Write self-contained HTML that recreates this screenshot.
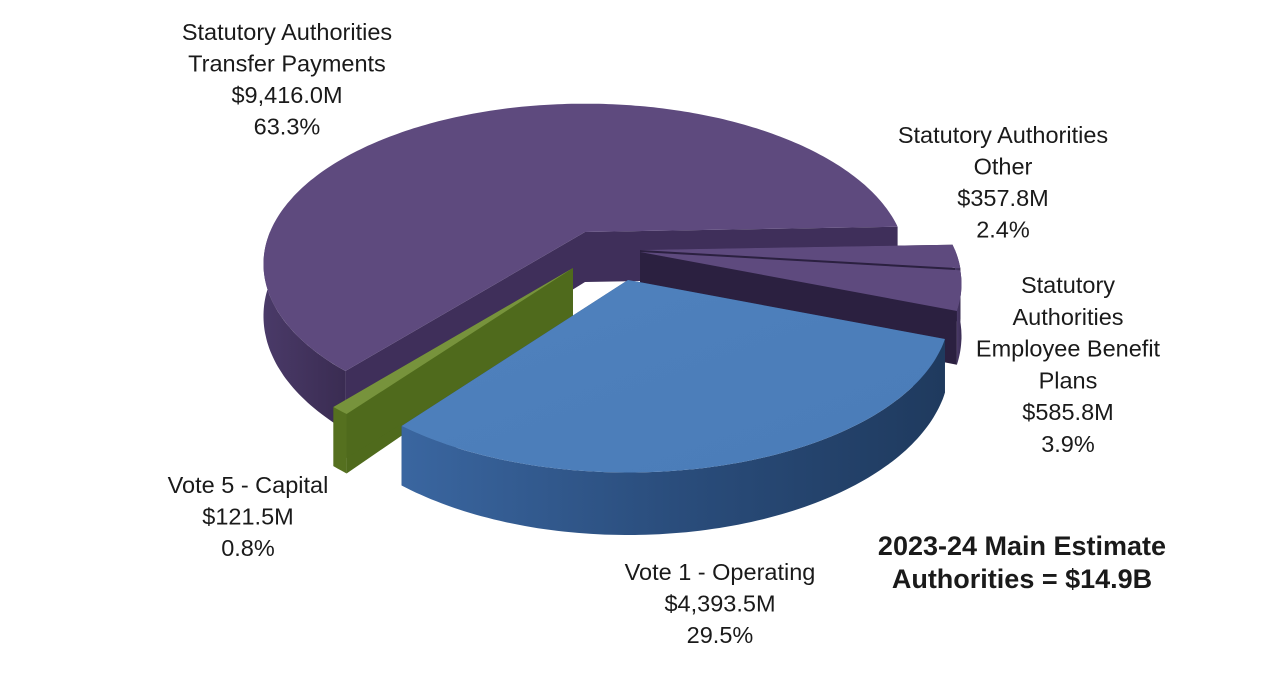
<!DOCTYPE html>
<html><head><meta charset="utf-8"><style>
html,body{margin:0;padding:0;background:#fff;}
svg{display:block;}
text{font-family:"Liberation Sans",sans-serif;fill:#1a1a1a;}
</style></head><body>
<svg id="chart" width="1267" height="692" viewBox="0 0 1267 692">
<defs>
<linearGradient id="gBlueWall" x1="0" x2="1" y1="0" y2="0"><stop offset="0" stop-color="#3a66a0"/><stop offset="0.5" stop-color="#2a4d7c"/><stop offset="1" stop-color="#1f3a5e"/></linearGradient>
<linearGradient id="gBlueTop" x1="0" x2="1" y1="0" y2="1"><stop offset="0" stop-color="#4f81bd"/><stop offset="1" stop-color="#4a7cb8"/></linearGradient>
<linearGradient id="gPurpleWall" x1="0" x2="1" y1="0" y2="0"><stop offset="0" stop-color="#4a3a68"/><stop offset="1" stop-color="#3a2c52"/></linearGradient>
</defs>
<g id="slices"></g>
<g id="labels"></g>
</svg>
<script>
const categories = ["Statutory Authorities Other","Statutory Authorities Employee Benefit Plans","Vote 1 - Operating","Vote 5 - Capital","Statutory Authorities Transfer Payments"];
const values = [357.8, 585.8, 4393.5, 121.5, 9416.0];
const amountLabels = ["$357.8M","$585.8M","$4,393.5M","$121.5M","$9,416.0M"];
const pctLabels = ["2.4%","3.9%","29.5%","0.8%","63.3%"];

const NS="http://www.w3.org/2000/svg";
const cx=585, cy=238, R=315, Ry=154, K=0.2, depth0=50, startDeg=-2;
const explode=[[55,12],[55,14],[43,42],[-12,30],[0,-6]];
const topC=["#5e4a7e","#5e4a7e","url(#gBlueTop)","#77933c","#5e4a7e"];
const wallC=["url(#gPurpleWall)","url(#gPurpleWall)","url(#gBlueWall)","#55701f","url(#gPurpleWall)"];
const radC=["#2b2040","#2b2040","#24406a","#4f6a1c","#3f2f5a"];
const names=["slice-other","slice-employee-benefit","slice-operating","slice-capital","slice-transfer-payments"];
const total=values.reduce((a,b)=>a+b,0);
const rad=d=>d*Math.PI/180;
function P(a,r,o,dz){const u=r*Math.cos(rad(a)),v=r*Math.sin(rad(a));const f=1/(1-K*v);
  return [cx+R*u*f+o[0], cy+Ry*v*f+depth0*f*dz+o[1]];}
function arc(a0,a1,o,dz){const pts=[];const n=Math.max(2,Math.ceil(Math.abs(a1-a0)));
  for(let k=0;k<=n;k++){pts.push(P(a0+(a1-a0)*k/n,1,o,dz));}return pts;}
const g=document.getElementById('slices');
function add(pts,fill,name){const p=document.createElementNS(NS,'path');
  p.setAttribute('d','M'+pts.map(q=>q[0].toFixed(1)+','+q[1].toFixed(1)).join(' L')+' Z');p.setAttribute('fill',fill);


g.appendChild(p);return p;}
const angles=[];let acc=startDeg;
values.forEach(v=>{const s=acc;acc+=v/total*360;angles.push([s,acc]);});
const order=[4,0,1,3,2];
order.forEach(i=>{
  const [a0,a1]=angles[i];const o=explode[i];
  const c=P(0,0,o,0),cb=P(0,0,o,1);
  [a0,a1].forEach((a,k)=>{
    add([c,P(a,1,o,0),P(a,1,o,1),cb],radC[i],names[i]+'-side-'+k);
  });
  [[0,180],[360,540]].forEach(([f0,f1])=>{
    const s=Math.max(a0,f0),e=Math.min(a1,f1);
    if(e>s){add(arc(s,e,o,0).concat(arc(e,s,o,1)),wallC[i],names[i]+'-wall');}
  });
  add([c].concat(arc(a0,a1,o,0)),topC[i],names[i]);
});

const L=document.getElementById('labels');
function label(lines,x,y0,step,name,bold,size){
  const t=document.createElementNS(NS,'text');
  
  
  t.setAttribute('text-anchor','middle');t.setAttribute('font-size',size||23.5);
  if(bold)t.setAttribute('font-weight','bold');
  lines.forEach((s,k)=>{const ts=document.createElementNS(NS,'tspan');ts.setAttribute('x',x);ts.setAttribute('y',y0+k*step);ts.textContent=s;t.appendChild(ts);});
  L.appendChild(t);
}
label(["Statutory Authorities","Transfer Payments",amountLabels[4],pctLabels[4]],287,40,31.5,'label-transfer-payments');
label(["Statutory Authorities","Other",amountLabels[0],pctLabels[0]],1003,143,31.5,'label-other');
label(["Statutory","Authorities","Employee Benefit","Plans",amountLabels[1],pctLabels[1]],1068,293,31.8,'label-employee-benefit');
label(["Vote 5 - Capital",amountLabels[3],pctLabels[3]],248,493,31.5,'label-capital');
label(["Vote 1 - Operating",amountLabels[2],pctLabels[2]],720,580,31.5,'label-operating');
label(["2023-24 Main Estimate","Authorities = $14.9B"],1022,555,33,'chart-total-title',true,27);
</script>
</body></html>
